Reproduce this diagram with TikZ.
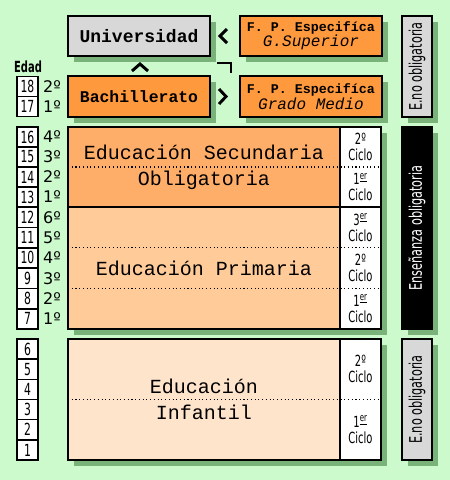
\documentclass[tikz,border=0pt]{standalone}
\usepackage{fontspec}
\setmainfont{Liberation Mono}
\newfontfamily\condsans[FakeStretch=0.65]{DejaVu Sans}
\newfontfamily\plainsans{DejaVu Sans}
\usepackage{tikz}
\usetikzlibrary{shadows,calc}

\definecolor{fondo}{RGB}{204,250,204}
\definecolor{sombra}{RGB}{40,110,40}
\definecolor{gris}{RGB}{216,216,216}
\definecolor{naranja}{RGB}{255,153,61}
\definecolor{naranjaB}{RGB}{255,174,105}
\definecolor{melocoton}{RGB}{255,204,153}
\definecolor{crema}{RGB}{255,228,204}

\begin{document}
\begin{tikzpicture}[x=0.75pt,y=-0.75pt,
    caja/.style={draw, line width=1.4pt, inner sep=0pt, outer sep=0pt, align=center,
      drop shadow={shadow xshift=4.5pt, shadow yshift=-4.5pt, fill=sombra, opacity=0.5}},
    cajaedad/.style={draw, fill=white, line width=1pt, inner sep=0pt,
      minimum width=15.75pt, minimum height=15pt,
      font=\condsans\fontsize{12.5}{13}\selectfont},
    curso/.style={inner sep=0pt, font=\plainsans\fontsize{12}{13}\selectfont},
    ciclo/.style={align=center, inner sep=0pt, font=\condsans\fontsize{11.5}{12}\selectfont},
    vertical/.style={rotate=90, inner sep=0pt, font=\condsans\fontsize{13}{14}\selectfont},
    separa/.style={dotted, line width=0.8pt},
    flecha/.style={line width=2.2pt}]

    % Background
    \fill[fondo] (0,0) rectangle (450,480);

    % Upper row: not compulsory studies
    \node[caja, fill=gris, minimum width=106.5pt, minimum height=30pt,
      font=\bfseries\fontsize{13.5}{16}\selectfont] (uni) at (139,36) {Universidad};
    \node[caja, fill=naranja, minimum width=106.5pt, minimum height=30pt,
      font=\fontsize{10}{11.5}\selectfont] (fpsup) at (311,36)
      {{\bfseries F. P. Especifíca}\\{\itshape\fontsize{12}{11.5}\selectfont G.Superior}};
    \node[caja, fill=naranja, minimum width=106.5pt, minimum height=30.75pt,
      font=\bfseries\fontsize{12.3}{14}\selectfont] (bach) at (139,96.5) {Bachillerato};
    \node[caja, fill=naranja, minimum width=106.5pt, minimum height=30.75pt,
      font=\fontsize{10}{11.5}\selectfont] (fpmed) at (311,96.5)
      {{\bfseries F. P. Especifíca}\\{\itshape\fontsize{12}{11.5}\selectfont Grado Medio}};
    \node[caja, fill=gris, minimum width=22.5pt, minimum height=75.75pt] (enoA) at (417,66.5) {};
    \node[vertical] (enoAtxt) at (enoA) {E.no obligatoria};

    % Chevrons between the upper boxes
    \coordinate (m1) at ($(uni.east)!0.5!(fpsup.west)$);
    \coordinate (m2) at ($(bach.east)!0.5!(fpmed.west)$);
    \coordinate (m3) at ($(uni.south)!0.5!(bach.north)$);
    \coordinate (m4) at ($(uni.south east)!0.5!(fpmed.north west)$);
    \draw[flecha] ([shift={(2,-7)}]m1) -- ([shift={(-5,0)}]m1) -- ([shift={(2,7)}]m1);
    \draw[flecha] ([shift={(-6,-7.5)}]m2) -- ([shift={(1,0)}]m2) -- ([shift={(-6,7.5)}]m2);
    \draw[flecha] ([shift={(-7,5)}]m3) -- ([shift={(1,-2)}]m3) -- ([shift={(9,5)}]m3);
    \draw[flecha] ([shift={(-8,-3)}]m4) -- ([shift={(6,-3)}]m4) -- ([shift={(6,7)}]m4);

    % Secondary
    \node[caja, fill=naranjaB, minimum width=204pt, minimum height=60pt,
      font=\fontsize{15}{19.5}\selectfont] (eso) at (204,167)
      {Educación Secundaria\\Obligatoria};
    \node[caja, fill=white, minimum width=30.75pt, minimum height=60pt] (cic1) at (360.5,167) {};
    \draw[separa] (eso.west) -- (cic1.east);

    % Primary
    \node[caja, fill=melocoton, minimum width=204pt, minimum height=91.5pt,
      font=\fontsize{15}{19.5}\selectfont] (pri) at (204,268) {Educación Primaria};
    \node[caja, fill=white, minimum width=30.75pt, minimum height=91.5pt] (cic2) at (360.5,268) {};
    \draw[separa] ($(pri.north west)!1/3!(pri.south west)$) -- ($(cic2.north east)!1/3!(cic2.south east)$);
    \draw[separa] ($(pri.north west)!2/3!(pri.south west)$) -- ($(cic2.north east)!2/3!(cic2.south east)$);

    % Compulsory label
    \node[caja, fill=black, minimum width=22.5pt, minimum height=151.5pt] (obl) at (417,228) {};
    \node[vertical, text=white] (obltxt) at (obl) {Enseñanza obligatoria};

    % Infant
    \node[caja, fill=crema, minimum width=204pt, minimum height=90.75pt,
      font=\fontsize{15}{19.5}\selectfont] (inf) at (204,399.5) {Educación\\Infantil};
    \node[caja, fill=white, minimum width=30.75pt, minimum height=90.75pt] (cic3) at (360.5,399.5) {};
    \draw[separa] (inf.west) -- (cic3.east);
    \node[caja, fill=gris, minimum width=22.5pt, minimum height=90.75pt] (enoB) at (417,399.5) {};
    \node[vertical] (enoBtxt) at (enoB) {E.no obligatoria};

    % Cycles
    \node[ciclo] (c1a) at ($(cic1.north)!0.25!(cic1.south)$) {2º\\Ciclo};
    \node[ciclo] (c1b) at ($(cic1.north)!0.75!(cic1.south)$) {1\textsuperscript{\underline{er}}\\Ciclo};
    \node[ciclo] (c2a) at ($(cic2.north)!1/6!(cic2.south)$) {3\textsuperscript{\underline{er}}\\Ciclo};
    \node[ciclo] (c2b) at ($(cic2.north)!0.5!(cic2.south)$) {2º\\Ciclo};
    \node[ciclo] (c2c) at ($(cic2.north)!5/6!(cic2.south)$) {1\textsuperscript{\underline{er}}\\Ciclo};
    \node[ciclo] (c3a) at ($(cic3.north)!0.25!(cic3.south)$) {2º\\Ciclo};
    \node[ciclo] (c3b) at ($(cic3.north)!0.75!(cic3.south)$) {1\textsuperscript{\underline{er}}\\Ciclo};

    % Ages and courses
    \node[inner sep=0pt, font=\condsans\bfseries\fontsize{11.5}{12}\selectfont] (edad) at (28,67) {Edad};
    \foreach \edad/\curso [count=\i from 0] in {18/2,17/1} {
        \node[cajaedad] (e\edad) at (27.5,{86.25+20.5*\i}) {\edad};
        \node[curso] (k\edad) at (52,{86.25+20.5*\i}) {{\curso}º};
    }
    \foreach \edad/\curso [count=\i from 0] in {16/4,15/3,14/2,13/1} {
        \node[cajaedad] (e\edad) at (27.5,{137+20*\i}) {\edad};
        \node[curso] (k\edad) at (52,{137+20*\i}) {{\curso}º};
    }
    \foreach \edad/\curso [count=\i from 0] in {12/6,11/5,10/4,9/3,8/2,7/1} {
        \node[cajaedad] (e\edad) at (27.5,{217.2+20.33*\i}) {\edad};
        \node[curso] (k\edad) at (52,{217.2+20.33*\i}) {{\curso}º};
    }
    \foreach \edad [count=\i from 0] in {6,5,4,3,2,1}
        \node[cajaedad] (e\edad) at (27.5,{349.1+20.17*\i}) {\edad};

\end{tikzpicture}
\end{document}
